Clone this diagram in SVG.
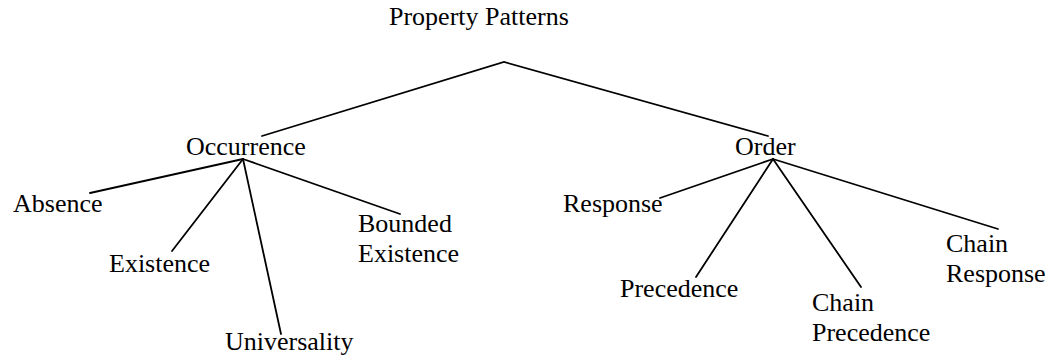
<svg xmlns="http://www.w3.org/2000/svg" width="1058" height="360" viewBox="0 0 1058 360">
  <style>
    text { font-family: "Liberation Serif", "Times New Roman", serif; font-size: 26px; fill: #000; }
    .edge { stroke: #000; stroke-width: 1.8; fill: none; stroke-linecap: round; }
  </style>
  <rect width="1058" height="360" fill="#fff"/>

  <!-- tree edges -->
  <g id="connectors">
    <polyline class="edge" points="262,136 504,62 768,136"/>
    <line class="edge" x1="243" y1="159" x2="90" y2="193"/>
    <line class="edge" x1="243" y1="159" x2="172" y2="251"/>
    <line class="edge" x1="243" y1="159" x2="281" y2="334"/>
    <line class="edge" x1="243" y1="159" x2="400" y2="214"/>
    <line class="edge" x1="773" y1="159" x2="660" y2="198"/>
    <line class="edge" x1="773" y1="159" x2="696" y2="277"/>
    <line class="edge" x1="773" y1="159" x2="861" y2="287"/>
    <line class="edge" x1="773" y1="159" x2="998" y2="229"/>
  </g>

  <g id="root"><text x="389" y="25">Property Patterns</text></g>

  <g id="occurrence"><text x="186" y="155">Occurrence</text></g>
  <g id="absence"><text x="13" y="212">Absence</text></g>
  <g id="existence"><text x="109" y="272">Existence</text></g>
  <g id="universality"><text x="225" y="350">Universality</text></g>
  <g id="bounded-existence">
    <text x="358" y="232">Bounded</text>
    <text x="358" y="262">Existence</text>
  </g>

  <g id="order"><text x="735" y="155">Order</text></g>
  <g id="response"><text x="563" y="212">Response</text></g>
  <g id="precedence"><text x="620" y="297">Precedence</text></g>
  <g id="chain-precedence">
    <text x="812" y="311">Chain</text>
    <text x="812" y="341">Precedence</text>
  </g>
  <g id="chain-response">
    <text x="946" y="252">Chain</text>
    <text x="946" y="282">Response</text>
  </g>
</svg>
